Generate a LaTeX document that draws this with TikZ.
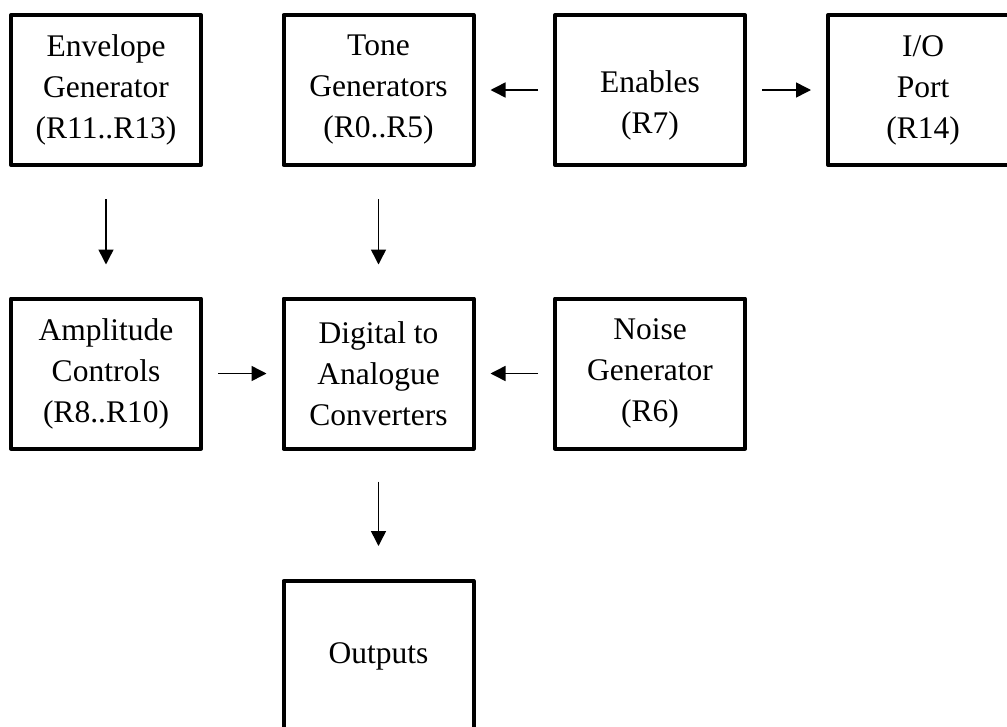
\documentclass[tikz,border=0pt]{standalone}
\usepackage{fontspec}
\setmainfont{Liberation Serif}
\usetikzlibrary{arrows.meta}
\begin{document}
\begin{tikzpicture}[x=1pt,y=-1pt,
  txt/.style={align=center,font=\fontsize{31.5}{41}\selectfont},
  box/.style={txt,draw,line width=4pt,line join=round,minimum width=190pt,minimum height=150pt,inner sep=0pt},
  arr/.style={line width=1.5pt,-{Triangle[length=15pt,width=15pt]}}]
\useasboundingbox (0,0) rectangle (1007,726);
\clip (0,0) rectangle (1007,726);
\node[box] (env) at (106,90) {Envelope\\Generator\\(R11..R13)};
\node[box] (tone) at (378.5,90) {Tone\\Generators\\(R0..R5)};
\node[box,label={[txt,yshift=-15pt]center:Enables\\(R7)}] (en) at (650,90) {};
\node[box] (io) at (923,90) {I/O\\Port\\(R14)};
\node[box] (amp) at (106,373.5) {Amplitude\\Controls\\(R8..R10)};
\node[box] (dac) at (378.5,373.5) {Digital to\\Analogue\\Converters};
\node[box] (noise) at (650,373.5) {Noise\\Generator\\(R6)};
\node[box] (out) at (378.5,656) {\raisebox{-5pt}{Outputs}};
\draw[arr] ([xshift=-15pt]en.west) -- ([xshift=15pt]tone.east);
\draw[arr] ([xshift=15pt]en.east) -- ([xshift=-15pt]io.west);
\draw[arr] ([yshift=-32pt]env.south) -- ([yshift=32pt]amp.north);
\draw[arr] ([yshift=-32pt]tone.south) -- ([yshift=32pt]dac.north);
\draw[arr] ([xshift=15pt]amp.east) -- ([xshift=-15pt]dac.west);
\draw[arr] ([xshift=-15pt]noise.west) -- ([xshift=15pt]dac.east);
\draw[arr] ([yshift=-31pt]dac.south) -- ([yshift=33pt]out.north);
\end{tikzpicture}
\end{document}
